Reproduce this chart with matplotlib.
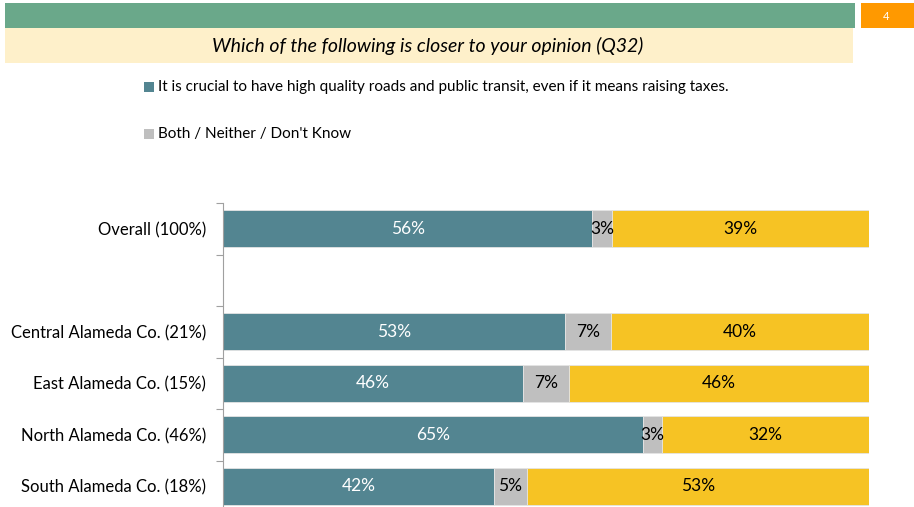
import matplotlib
matplotlib.use("Agg")
import matplotlib.pyplot as plt
from matplotlib.patches import Rectangle
import numpy as np

plt.rcParams['font.family'] = ['Lato', 'DejaVu Sans']

title = "Which of the following is closer to your opinion (Q32)"
page_no = "4"
categories = ["Overall (100%)", "", "Central Alameda Co. (21%)", "East Alameda Co. (15%)",
              "North Alameda Co. (46%)", "South Alameda Co. (18%)"]
crucial = [56, None, 53, 46, 65, 42]
neither = [3, None, 7, 7, 3, 5]
other = [39, None, 40, 46, 32, 53]
legend_labels = ["It is crucial to have high quality roads and public transit, even if it means raising taxes.",
                 "Both / Neither / Don't Know"]
colors = ["#538591", "#BFBFBF", "#F6C324"]
label_colors = ["white", "black", "black"]

W, H = 914, 507
fig = plt.figure(figsize=(W / 100, H / 100), dpi=100)

def fx(x): return x / W
def fy(y): return 1 - y / H

# header bars
fig.patches.append(Rectangle((fx(5), fy(28)), fx(850), 25 / H, transform=fig.transFigure,
                             facecolor="#6AA88A", edgecolor="none"))
fig.patches.append(Rectangle((fx(861), fy(28)), fx(60), 25 / H, transform=fig.transFigure,
                             facecolor="#FF9900", edgecolor="none"))
fig.text(fx(886), fy(16), page_no, color="white", fontsize=8, ha="center", va="center")
fig.patches.append(Rectangle((fx(5), fy(63)), fx(848), 35 / H, transform=fig.transFigure,
                             facecolor="#FEF0CA", edgecolor="none"))
fig.text(fx(428), fy(46), title, fontsize=14, style="italic", ha="center", va="center")

# legend
leg_y = [87, 134]
for i, (lab, yy) in enumerate(zip(legend_labels, leg_y)):
    fig.patches.append(Rectangle((fx(144), fy(yy + 5)), fx(10), 10 / H, transform=fig.transFigure,
                                 facecolor=colors[i], edgecolor="none"))
    fig.text(fx(158), fy(yy), lab, fontsize=11, ha="left", va="center")

# axes
top, bottom = 203, 512
ax = fig.add_axes([fx(223), fy(bottom), fx(869 - 223), (bottom - top) / H])
ax.set_xlim(0, 100)
ax.set_ylim(len(categories) - 0.5, -0.5)

y = np.arange(len(categories))
for i in range(len(categories)):
    if crucial[i] is None:
        continue
    vals = np.array([crucial[i], neither[i], other[i]], dtype=float)
    widths = vals / vals.sum() * 100
    left = 0
    for j, (v, w) in enumerate(zip(vals, widths)):
        ax.barh(y[i], w, left=left, height=0.72, color=colors[j], edgecolor="#E4E4E4", linewidth=0.6)
        ax.text(left + w / 2, y[i], f"{int(v)}%", ha="center", va="center",
                color=label_colors[j], fontsize=12.5)
        left += w

ax.set_yticks(y)
ax.set_yticklabels(categories, fontsize=12)
ax.tick_params(axis="y", which="major", length=0, pad=12)
ax.set_yticks(np.arange(-0.5, len(categories) - 0.5, 1), minor=True)
ax.tick_params(axis="y", which="minor", length=5, color="#A0A0A0", width=0.8)
ax.set_xticks([])
for s in ["top", "right", "bottom"]:
    ax.spines[s].set_visible(False)
ax.spines["left"].set_color("#A0A0A0")
ax.spines["left"].set_linewidth(0.8)

fig.savefig("out.png", dpi=100)
